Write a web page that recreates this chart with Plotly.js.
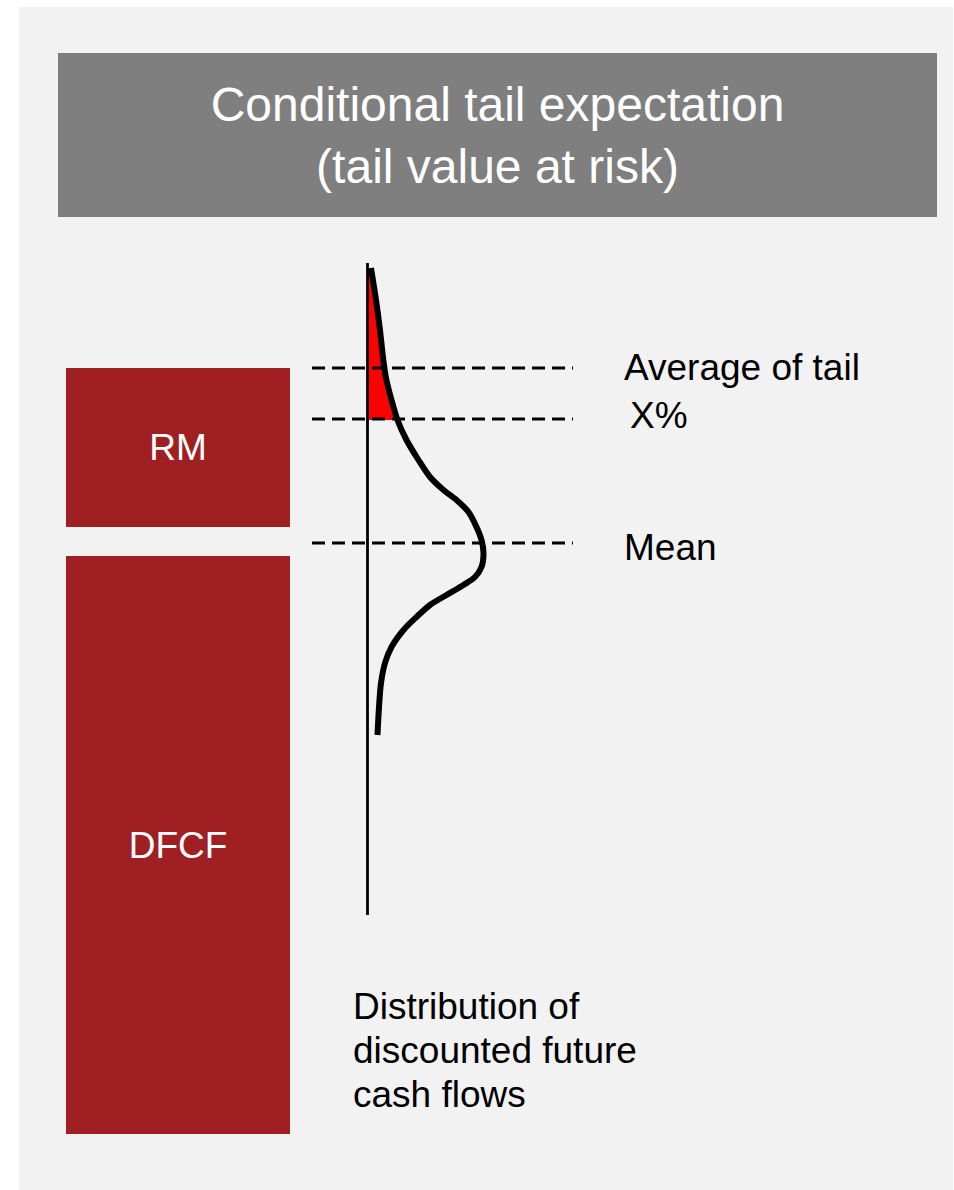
<!DOCTYPE html>
<html>
<head>
<meta charset="utf-8">
<script src="https://cdn.plot.ly/plotly-3.0.1.min.js"></script>
<style>
  html, body { margin: 0; padding: 0; background: #ffffff; }
  #chart { width: 954px; height: 1190px; }
</style>
</head>
<body>
<div id="chart"></div>
<script>
// Capital stack: discounted future cash flows plus risk margin
const capitalParts = ['DFCF', 'RM'];
const partBase = [0, 607];
const partSize = [578, 159];

// Distribution of discounted future cash flows (value on the vertical, density to the right)
const cashFlowValue = [866, 834, 804, 774, 756, 734, 714, 694, 674, 657, 644, 634, 622, 607,
                       594, 581, 567, 557, 549, 539, 529, 517, 504, 487, 471, 451, 427, 399];
const density = [3.5, 8.5, 12.5, 15.8, 18.5, 24, 30, 39, 51, 62.5, 76, 89, 101, 109,
                 114, 116, 114, 107.5, 96, 79, 62.5, 49, 36, 24, 17.5, 13.5, 11.5, 10];

// Reference levels on the value axis
const levelNames = ['Average of tail', 'X%', 'Mean'];
const levelValues = [766, 715, 591];

// Extent of the value axis drawn next to the distribution
const valueAxisSpan = [219, 871];

// Caption under the distribution
const captionLines = ['Distribution of', 'discounted future', 'cash flows'];

const FONT = 'Liberation Sans, Arial, sans-serif';
const BAR_RED = '#A01F22';
const W = 954, H = 1190;

const traces = [];

// Stacked capital bars
capitalParts.forEach((name, i) => {
  traces.push({
    type: 'bar',
    x: ['Capital'],
    y: [partSize[i]],
    base: [partBase[i]],
    width: 1,
    text: [name],
    textposition: 'inside',
    insidetextanchor: 'middle',
    textangle: 0,
    textfont: { family: FONT, size: 37, color: '#ffffff' },
    marker: { color: BAR_RED, line: { width: 0 } },
    xaxis: 'x', yaxis: 'y',
    hoverinfo: 'skip'
  });
});

// Shaded tail: area between the value axis and the curve above the X% level
const tailCut = levelValues[1];
const tailX = [0], tailY = [cashFlowValue[0]];
cashFlowValue.forEach((v, i) => {
  if (v >= tailCut - 1) { tailX.push(density[i]); tailY.push(v); }
});
tailX.push(0); tailY.push(tailY[tailY.length - 1]);
traces.push({
  type: 'scatter', mode: 'lines',
  x: tailX, y: tailY,
  fill: 'toself', fillcolor: '#FF0000',
  line: { width: 0, color: '#FF0000' },
  xaxis: 'x2', yaxis: 'y',
  hoverinfo: 'skip'
});

// Dashed reference levels
levelValues.forEach(v => {
  traces.push({
    type: 'scatter', mode: 'lines',
    x: [-55.5, 205.5], y: [v, v],
    line: { color: '#000000', width: 3, dash: '13px,7px' },
    xaxis: 'x2', yaxis: 'y',
    hoverinfo: 'skip'
  });
});

// Vertical value axis
traces.push({
  type: 'scatter', mode: 'lines',
  x: [0, 0], y: valueAxisSpan,
  line: { color: '#000000', width: 2.8 },
  xaxis: 'x2', yaxis: 'y',
  hoverinfo: 'skip'
});

// Distribution curve
traces.push({
  type: 'scatter', mode: 'lines',
  x: density, y: cashFlowValue,
  line: { color: '#000000', width: 6, shape: 'spline', smoothing: 0.8 },
  xaxis: 'x2', yaxis: 'y',
  hoverinfo: 'skip'
});

const annotations = [];
const levelYShift = [1, 4, -4];
const levelXShift = [0, 6, 0];
levelNames.forEach((name, i) => {
  annotations.push({
    xref: 'x2', yref: 'y',
    x: 254.5, y: levelValues[i],
    xshift: levelXShift[i], yshift: levelYShift[i],
    text: name, showarrow: false,
    xanchor: 'left', yanchor: 'middle',
    font: { family: FONT, size: 37, color: '#000000' }
  });
});
captionLines.forEach((line, i) => {
  annotations.push({
    xref: 'paper', yref: 'paper',
    x: 351 / W, y: 1 - (1006 + 44 * i) / H,
    text: line, showarrow: false,
    xanchor: 'left', yanchor: 'middle',
    font: { family: FONT, size: 37, color: '#000000' }
  });
});

const layout = {
  width: W, height: H,
  margin: { l: 0, r: 0, t: 0, b: 0, pad: 0 },
  paper_bgcolor: '#ffffff',
  plot_bgcolor: 'rgba(0,0,0,0)',
  showlegend: false,
  barmode: 'overlay',
  title: {
    text: 'Conditional tail expectation<br>(tail value at risk)',
    font: { family: FONT, size: 48, color: '#ffffff' },
    xref: 'container', yref: 'container',
    x: 497.5 / W, xanchor: 'center',
    y: 1 - 120.5 / H, yanchor: 'middle'
  },
  xaxis: {
    type: 'category', range: [-178 / 224, (W - 178) / 224],
    visible: false, fixedrange: true
  },
  xaxis2: {
    overlaying: 'x', range: [-367.5, W - 367.5],
    visible: false, fixedrange: true
  },
  yaxis: {
    range: [-56, 1134],
    visible: false, fixedrange: true
  },
  shapes: [
    { type: 'rect', xref: 'paper', yref: 'paper', layer: 'below',
      x0: 19 / W, x1: 953 / W, y0: 0, y1: 1 - 7 / H,
      fillcolor: '#F2F2F2', line: { width: 0 } },
    { type: 'rect', xref: 'paper', yref: 'paper', layer: 'below',
      x0: 58 / W, x1: 937 / W, y0: 1 - 217 / H, y1: 1 - 53 / H,
      fillcolor: '#7F7F7F', line: { width: 0 } }
  ],
  annotations: annotations
};

Plotly.newPlot('chart', traces, layout, { staticPlot: true, displayModeBar: false });
</script>
</body>
</html>
